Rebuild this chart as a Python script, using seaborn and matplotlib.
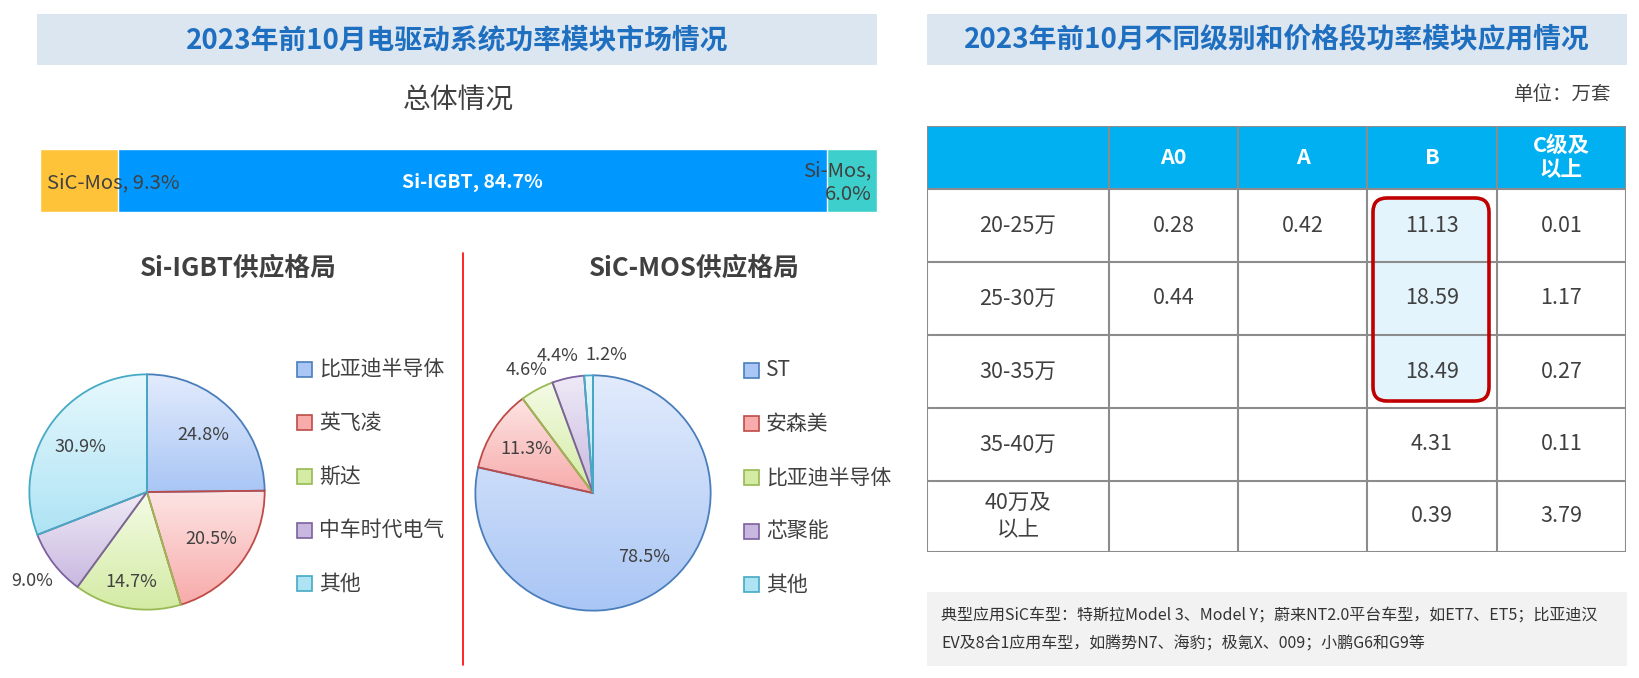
import numpy as np
import matplotlib
matplotlib.use("Agg")
import matplotlib.pyplot as plt
import seaborn as sns
from matplotlib.patches import Rectangle, FancyBboxPatch
from matplotlib.colors import to_rgb

# ---- data ----
overall_types = ["SiC-Mos", "Si-IGBT", "Si-Mos"]
overall_share = [9.3, 84.7, 6.0]

igbt_suppliers = ["比亚迪半导体", "英飞凌", "斯达", "中车时代电气", "其他"]
igbt_share = [24.8, 20.5, 14.7, 9.0, 30.9]

sic_suppliers = ["ST", "安森美", "比亚迪半导体", "芯聚能", "其他"]
sic_share = [78.5, 11.3, 4.6, 4.4, 1.2]

price_bands = ["20-25万", "25-30万", "30-35万", "35-40万", "40万及\n以上"]
car_classes = ["A0", "A", "B", "C级及\n以上"]
vol_a0 = [0.28, 0.44, None, None, None]
vol_a = [0.42, None, None, None, None]
vol_b = [11.13, 18.59, 18.49, 4.31, 0.39]
vol_c = [0.01, 1.17, 0.27, 0.11, 3.79]

note = ("典型应用SiC车型：特斯拉Model 3、Model Y；蔚来NT2.0平台车型，如ET7、ET5；比亚迪汉\n"
        "EV及8合1应用车型，如腾势N7、海豹；极氪X、009；小鹏G6和G9等")

# ---- style ----
sns.set_theme(style="white")
plt.rcParams["font.family"] = ["Noto Sans CJK SC", "DejaVu Sans"]

TITLE_BLUE = "#1F6FC0"
BAND = "#DCE6F1"
DARK = "#404040"
bar_colors = ["#FFC33A", "#0098FF", "#3DCFCB"]

# gradient tops, bottoms, edges per palette slot (blue, red, green, purple, cyan)
pie_top = ["#E2EBFC", "#FDE4E4", "#F4FBE6", "#EFEAF6", "#E6F8FD"]
pie_bot = ["#A9C6F5", "#F7ABAA", "#D3EBA3", "#C8B8E0", "#AEE3F4"]
pie_edge = ["#4A7EBB", "#BE4B48", "#98B954", "#7D60A0", "#46AAC5"]

W, H = 1640, 678
fig = plt.figure(figsize=(W / 100, H / 100), dpi=100)


def px_axes(x0, y0, x1, y1):
    return fig.add_axes([x0 / W, 1 - y1 / H, (x1 - x0) / W, (y1 - y0) / H])


bg = fig.add_axes([0, 0, 1, 1])
bg.set_xlim(0, W)
bg.set_ylim(H, 0)
bg.axis("off")

# header bands
for x0, x1, title in [(37, 877, "2023年前10月电驱动系统功率模块市场情况"),
                      (927, 1627, "2023年前10月不同级别和价格段功率模块应用情况")]:
    bg.add_patch(Rectangle((x0, 14), x1 - x0, 51, color=BAND, lw=0))
    bg.text((x0 + x1) / 2, 40, title, ha="center", va="center",
            fontsize=20, fontweight="bold", color=TITLE_BLUE)

bg.text(458, 100, "总体情况", ha="center", va="center", fontsize=20, color=DARK)
bg.text(238, 268, "Si-IGBT供应格局", ha="center", va="center", fontsize=18.5,
        fontweight="bold", color=DARK)
bg.text(694, 268, "SiC-MOS供应格局", ha="center", va="center", fontsize=18.5,
        fontweight="bold", color=DARK)
bg.plot([463, 463], [253, 665], color="#FF0000", lw=1.2)

# ---- overall stacked bar (seaborn layered cumulative bars) ----
bar_ax = px_axes(40, 149, 877, 212)
cum = np.cumsum(overall_share)
for total, col in reversed(list(zip(cum, bar_colors))):
    sns.barplot(x=[total], y=["总体"], color=col, orient="h", width=1,
                saturation=1, ax=bar_ax)
bar_ax.set_xlim(0, 100)
bar_ax.set_ylim(0.5, -0.5)
bar_ax.axis("off")
starts = cum - np.array(overall_share)
bar_ax.text(starts[0] + 0.8, 0.03, f"{overall_types[0]}, {overall_share[0]}%",
            ha="left", va="center", fontsize=14.6, color=DARK)
bar_ax.text(starts[1] + overall_share[1] / 2, 0.03, f"{overall_types[1]}, {overall_share[1]}%",
            ha="center", va="center", fontsize=14, fontweight="bold", color="white")
bar_ax.text(99.3, 0.03, f"{overall_types[2]},\n{overall_share[2]}%", ha="right",
            va="center", fontsize=14.6, color=DARK, linespacing=1.15)


# ---- pies ----
def draw_pie(box, values, label_dist, label_ha, label_dx):
    ax = px_axes(*box)
    wedges, _ = ax.pie(values, startangle=90, counterclock=False, radius=1,
                       wedgeprops=dict(linewidth=1.3))
    for w, top, bot, edge in zip(wedges, pie_top, pie_bot, pie_edge):
        w.set_facecolor("none")
        w.set_edgecolor(edge)
        w.set_zorder(3)
        ext = w.get_path().get_extents()
        g = np.linspace(0, 1, 128)[:, None, None]
        img = np.array(to_rgb(top))[None, None, :] * (1 - g) + np.array(to_rgb(bot))[None, None, :] * g
        im = ax.imshow(img, extent=(ext.x0, ext.x1, ext.y0, ext.y1), origin="upper",
                       aspect="auto", zorder=2, interpolation="bilinear")
        im.set_clip_path(w)
    mids = np.cumsum(values) - np.array(values) / 2
    for v, m, d, ha, dx in zip(values, mids, label_dist, label_ha, label_dx):
        th = np.deg2rad(90 - 360 * m / 100)
        ax.text(d * np.cos(th) + dx, d * np.sin(th), f"{v:.1f}%", ha=ha, va="center",
                fontsize=13, color=DARK, zorder=5)
    ax.set_xlim(-1.02, 1.02)
    ax.set_ylim(-1.02, 1.02)
    ax.set_aspect("equal")
    ax.axis("off")
    return ax


draw_pie((27, 372, 267, 612), igbt_share, [0.68, 0.68, 0.78, 1.24, 0.68],
         ["center"] * 5, [0, 0, 0, 0, 0])
draw_pie((473, 373, 713, 613), sic_share, [0.70, 0.68, 1.19, 1.19, 1.17],
         ["center", "center", "center", "right", "left"], [0, 0, 0, 0.13, -0.02])


def draw_legend(x, y0, names, step=53.7):
    for i, name in enumerate(names):
        y = y0 + i * step
        bg.add_patch(Rectangle((x, y - 7.5), 15, 15, facecolor=pie_bot[i], edgecolor=pie_edge[i], lw=1.2))
        bg.text(x + 22, y, name, ha="left", va="center", fontsize=15, color=DARK)


draw_legend(297, 369, igbt_suppliers)
draw_legend(744, 370, sic_suppliers)

# ---- right table ----
bg.text(1611, 95, "单位：万套", ha="right", va="center", fontsize=14, color=DARK)

col_w = [182, 129, 129, 130, 129]
row_h = [63, 73, 73, 73, 73, 71]
tab = px_axes(927, 126, 927 + sum(col_w), 126 + sum(row_h))
tab.set_xlim(0, sum(col_w))
tab.set_ylim(sum(row_h), 0)
tab.axis("off")
xe = np.concatenate([[0], np.cumsum(col_w)])
ye = np.concatenate([[0], np.cumsum(row_h)])
xc = (xe[:-1] + xe[1:]) / 2
yc = (ye[:-1] + ye[1:]) / 2

tab.add_patch(Rectangle((0, 0), xe[-1], ye[1], color="#00B0F0", lw=0, zorder=1))
# highlight on class B, first three price bands
hl = ((xe[3] + 6, ye[1] + 9), col_w[3] - 14, ye[4] - ye[1] - 16)
tab.add_patch(FancyBboxPatch(*hl, boxstyle="round,pad=0,rounding_size=14",
                             facecolor="#E4F4FC", edgecolor="none", zorder=1))
for x in xe:
    tab.plot([x, x], [ye[0], ye[-1]], color="#8C8C8C", lw=1.5, zorder=2)
for y in ye:
    tab.plot([xe[0], xe[-1]], [y, y], color="#8C8C8C", lw=1.5, zorder=2)
tab.add_patch(FancyBboxPatch(*hl, boxstyle="round,pad=0,rounding_size=14",
                             facecolor="none", edgecolor="#C00000", lw=2.6, zorder=3))

for j, cls in enumerate(car_classes):
    tab.text(xc[j + 1], yc[0], cls, ha="center", va="center", fontsize=15.5,
             fontweight="bold", color="white", linespacing=1.15, zorder=4)
for i, band in enumerate(price_bands):
    tab.text(xc[0], yc[i + 1], band, ha="center", va="center", fontsize=15.5,
             color=DARK, linespacing=1.3, zorder=4)
    for j, col in enumerate([vol_a0, vol_a, vol_b, vol_c]):
        if col[i] is not None:
            tab.text(xc[j + 1], yc[i + 1], f"{col[i]:.2f}", ha="center", va="center",
                     fontsize=15.5, color=DARK, zorder=4)

# ---- note box ----
bg.add_patch(Rectangle((927, 592), 700, 74, color="#F2F2F2", lw=0))
bg.text(941, 630, note, ha="left", va="center", fontsize=11.5, color="#333333",
        linespacing=1.8)

fig.savefig("out.png", dpi=100)
